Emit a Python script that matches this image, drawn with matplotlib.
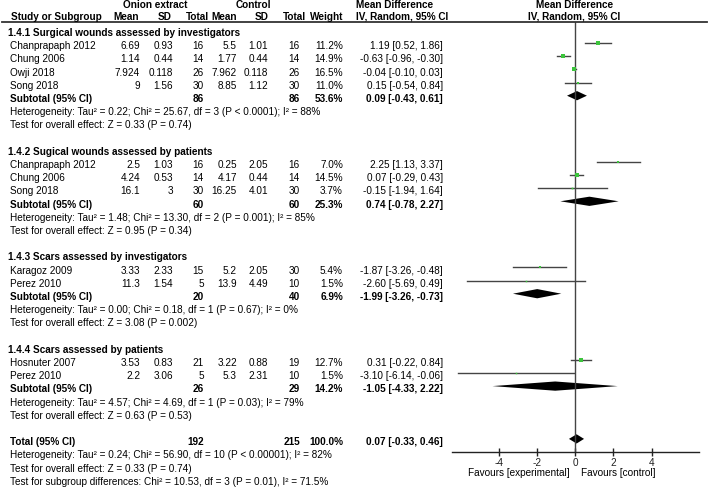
import matplotlib
matplotlib.use("Agg")
import matplotlib.pyplot as plt
import matplotlib.transforms as mtransforms
from matplotlib.lines import Line2D
import numpy as np

# ---- data ----
group_titles = ["1.4.1 Surgical wounds assessed by investigators",
                "1.4.2 Sugical wounds assessed by patients",
                "1.4.3 Scars assessed by investigators",
                "1.4.4 Scars assessed by patients"]

study_names = ["Chanprapaph 2012", "Chung 2006", "Owji 2018", "Song 2018",
               "Chanprapaph 2012", "Chung 2006", "Song 2018",
               "Karagoz 2009", "Perez 2010",
               "Hosnuter 2007", "Perez 2010"]
study_group = [0, 0, 0, 0, 1, 1, 1, 2, 2, 3, 3]
onion_mean = [6.69, 1.14, 7.924, 9, 2.5, 4.24, 16.1, 3.33, 11.3, 3.53, 2.2]
onion_sd = [0.93, 0.44, 0.118, 1.56, 1.03, 0.53, 3, 2.33, 1.54, 0.83, 3.06]
onion_n = [16, 14, 26, 30, 16, 14, 30, 15, 5, 21, 5]
ctrl_mean = [5.5, 1.77, 7.962, 8.85, 0.25, 4.17, 16.25, 5.2, 13.9, 3.22, 5.3]
ctrl_sd = [1.01, 0.44, 0.118, 1.12, 2.05, 0.44, 4.01, 2.05, 4.49, 0.88, 2.31]
ctrl_n = [16, 14, 26, 30, 16, 14, 30, 30, 10, 19, 10]
weight = [11.2, 14.9, 16.5, 11.0, 7.0, 14.5, 3.7, 5.4, 1.5, 12.7, 1.5]
md = [1.19, -0.63, -0.04, 0.15, 2.25, 0.07, -0.15, -1.87, -2.60, 0.31, -3.10]
md_lo = [0.52, -0.96, -0.10, -0.54, 1.13, -0.29, -1.94, -3.26, -5.69, -0.22, -6.14]
md_hi = [1.86, -0.30, 0.03, 0.84, 3.37, 0.43, 1.64, -0.48, 0.49, 0.84, -0.06]

sub_onion_n = [86, 60, 20, 26]
sub_ctrl_n = [86, 60, 40, 29]
sub_weight = [53.6, 25.3, 6.9, 14.2]
sub_md = [0.09, 0.74, -1.99, -1.05]
sub_lo = [-0.43, -0.78, -3.26, -4.33]
sub_hi = [0.61, 2.27, -0.73, 2.22]
sub_het = ["Heterogeneity: Tau² = 0.22; Chi² = 25.67, df = 3 (P < 0.0001); I² = 88%",
           "Heterogeneity: Tau² = 1.48; Chi² = 13.30, df = 2 (P = 0.001); I² = 85%",
           "Heterogeneity: Tau² = 0.00; Chi² = 0.18, df = 1 (P = 0.67); I² = 0%",
           "Heterogeneity: Tau² = 4.57; Chi² = 4.69, df = 1 (P = 0.03); I² = 79%"]
sub_test = ["Test for overall effect: Z = 0.33 (P = 0.74)",
            "Test for overall effect: Z = 0.95 (P = 0.34)",
            "Test for overall effect: Z = 3.08 (P = 0.002)",
            "Test for overall effect: Z = 0.63 (P = 0.53)"]

tot_onion_n = 192
tot_ctrl_n = 215
tot_weight = 100.0
tot_md, tot_lo, tot_hi = 0.07, -0.33, 0.46
tot_lines = ["Heterogeneity: Tau² = 0.24; Chi² = 56.90, df = 10 (P < 0.00001); I² = 82%",
             "Test for overall effect: Z = 0.33 (P = 0.74)",
             "Test for subgroup differences: Chi² = 10.53, df = 3 (P = 0.01), I² = 71.5%"]

ticks = [-4, -2, 0, 2, 4]

# ---- layout ----
plt.rcParams['font.family'] = ['Liberation Sans', 'DejaVu Sans']
fs = 7.2
W, H = 709, 487
fig = plt.figure(figsize=(W / 100, H / 100), dpi=100)

row0_px, row_h = 33.0, 13.2
y_top = (22 - row0_px) / row_h
y_axis = (452 - row0_px) / row_h
ax = fig.add_axes([452 / W, (H - 452) / H, 246.5 / W, 430 / H])
ax.set_xlim(-6.45, 6.45)
ax.set_ylim(y_axis, y_top)
for s in ["top", "left", "right"]:
    ax.spines[s].set_visible(False)
ax.spines["bottom"].set_color("#222222")
ax.spines["bottom"].set_linewidth(1.0)
ax.set_yticks([])
ax.set_xticks(ticks)
ax.set_xticklabels([str(t) for t in ticks], fontsize=fs)
ax.tick_params(axis="x", direction="inout", length=6, width=1, pad=1.5, colors="#222222")
ax.axvline(0, color="#444444", lw=1.0)

tr = mtransforms.blended_transform_factory(fig.transFigure, ax.transData)


def put(xpx, row, s, ha="right", bold=False):
    fig.text(xpx / W, row, s, transform=tr, ha=ha, va="center", fontsize=fs,
             fontweight="bold" if bold else "normal")


# column edges (pixels)
c_name, c_om, c_osd, c_on, c_cm, c_csd, c_cn, c_w, c_ci = 10, 140, 173, 204, 237, 268, 300, 343, 443

# headers
put(155, -2.15, "Onion extract", ha="center", bold=True)
put(253, -2.15, "Control", ha="center", bold=True)
put(395, -2.15, "Mean Difference", ha="center", bold=True)
put(575, -2.15, "Mean Difference", ha="center", bold=True)
hr = -1.22
put(11, hr, "Study or Subgroup", ha="left", bold=True)
put(139, hr, "Mean", bold=True)
put(172, hr, "SD", bold=True)
put(208.5, hr, "Total", bold=True)
put(237, hr, "Mean", bold=True)
put(269, hr, "SD", bold=True)
put(306, hr, "Total", bold=True)
put(343, hr, "Weight", bold=True)
put(402, hr, "IV, Random, 95% CI", ha="center", bold=True)
put(574, hr, "IV, Random, 95% CI", ha="center", bold=True)
fig.add_artist(Line2D([2 / W, 707 / W], [y_top, y_top], transform=tr,
                      color="#333333", lw=1.3))

mark_off = -0.25
green = "#3cc43c"
ci_col = "#444444"


def diamond(row, m, lo, hi):
    h = 0.35
    ax.fill([lo, m, hi, m], [row, row - h, row, row + h], color="black", lw=0, clip_on=False)


row = 0
for g, title in enumerate(group_titles):
    put(8, row, title, ha="left", bold=True)
    row += 1
    for i in [k for k, gg in enumerate(study_group) if gg == g]:
        put(c_name, row, study_names[i], ha="left")
        put(c_om, row, f"{onion_mean[i]:g}")
        put(c_osd, row, f"{onion_sd[i]:g}")
        put(c_on, row, str(onion_n[i]))
        put(c_cm, row, f"{ctrl_mean[i]:g}")
        put(c_csd, row, f"{ctrl_sd[i]:g}")
        put(c_cn, row, str(ctrl_n[i]))
        put(c_w, row, f"{weight[i]:.1f}%")
        put(c_ci, row, f"{md[i]:.2f} [{md_lo[i]:.2f}, {md_hi[i]:.2f}]")
        yr = row + mark_off
        ax.plot([md_lo[i], md_hi[i]], [yr, yr], color=ci_col, lw=1.0, clip_on=False)
        side = max(1.5, 0.9 * np.sqrt(weight[i]))
        ax.plot(md[i], yr, "s", color=green, ms=side * 0.72, mew=0)
        row += 1
    put(c_name, row, "Subtotal (95% CI)", ha="left", bold=True)
    put(c_on, row, str(sub_onion_n[g]), bold=True)
    put(c_cn, row, str(sub_ctrl_n[g]), bold=True)
    put(c_w, row, f"{sub_weight[g]:.1f}%", bold=True)
    put(c_ci, row, f"{sub_md[g]:.2f} [{sub_lo[g]:.2f}, {sub_hi[g]:.2f}]", bold=True)
    diamond(row + mark_off, sub_md[g], sub_lo[g], sub_hi[g])
    row += 1
    put(c_name, row, sub_het[g], ha="left")
    row += 1
    put(c_name, row, sub_test[g], ha="left")
    row += 2

put(c_name, row, "Total (95% CI)", ha="left", bold=True)
put(c_on, row, str(tot_onion_n), bold=True)
put(c_cn, row, str(tot_ctrl_n), bold=True)
put(c_w, row, f"{tot_weight:.1f}%", bold=True)
put(c_ci, row, f"{tot_md:.2f} [{tot_lo:.2f}, {tot_hi:.2f}]", bold=True)
diamond(row + mark_off, tot_md, tot_lo, tot_hi)
for line in tot_lines:
    row += 1
    put(c_name, row, line, ha="left")

fav_row = (473 - row0_px) / row_h
ax.text(-0.28, fav_row, "Favours [experimental]", ha="right", va="center", fontsize=fs, clip_on=False)
ax.text(0.3, fav_row, "Favours [control]", ha="left", va="center", fontsize=fs, clip_on=False)

fig.savefig("out.png", dpi=100)
